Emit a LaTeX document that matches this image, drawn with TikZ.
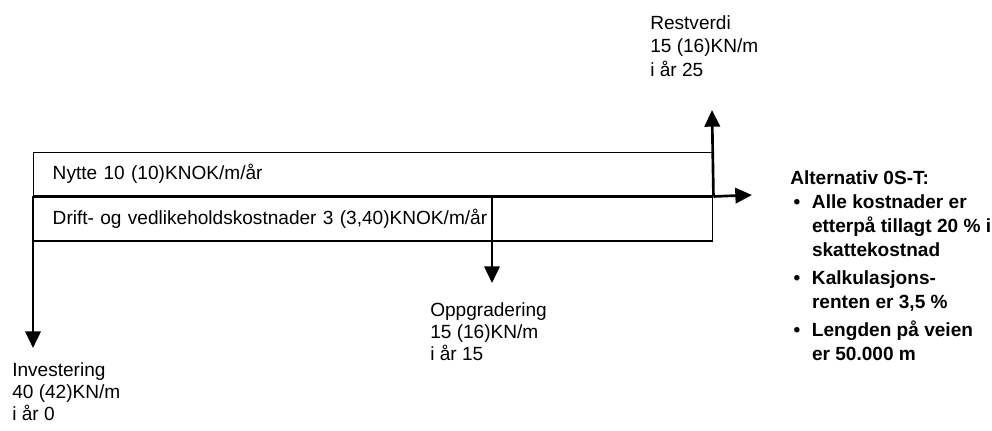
\documentclass[tikz,border=0pt]{standalone}
\usepackage{fontspec}
\setmainfont{Liberation Sans}
\usepackage{tikz}
\usetikzlibrary{arrows.meta,positioning}
\newcommand{\tekst}{\fontsize{14.3pt}{16.5pt}\selectfont}
\newcommand{\punkt}{\makebox[16.3pt][l]{\hspace{2.5pt}\textbullet}}
\newcommand{\innrykk}{\hspace*{16.3pt}}
\tikzset{
  boks/.style={draw=black,line width=1.1pt,anchor=north west,text width=480.75pt,
              align=left,inner xsep=14.25pt,inner ysep=0pt,font=\tekst},
  pil/.style={-{Triangle[length=12.5pt,width=11.5pt]},line width=2pt},
  etikett/.style={align=left,inner sep=0pt,anchor=base west,font=\tekst},
}

\begin{document}
\begin{tikzpicture}[x=0.75pt,y=-0.75pt]
  \useasboundingbox (0,0) rectangle (992,430);

  % ================= kontantstroem: boksene =================
  \node[boks,minimum height=32.25pt] (nytte) at (33,152) {Nytte 10 (10)KNOK/m/år};
  \node[boks,minimum height=33pt] (drift) at (nytte.south west)
    {Drift- og vedlikeholdskostnader 3 (3,40)KNOK/m/år};

  % ================= piler =================
  \coordinate (invtupp)  at (33,348);
  \coordinate (opptopp)  at (492,195);
  \coordinate (opptupp)  at (492,283);
  \coordinate (resttupp) at (712,110);
  \coordinate (tidtupp)  at (752,195);
  \draw[pil] (drift.north west) -- (invtupp);
  \draw[pil] (opptopp) -- (opptupp);
  \draw[pil] (nytte.south east) -- (resttupp);
  \draw[pil] (nytte.south east) -- (tidtupp);

  % ================= etiketter (ankret i siste linje) =================
  \node[etikett,font=\fontsize{14.3pt}{17.5pt}\selectfont] (rest) at (650,76)
    {Restverdi\\ 15 (16)KN/m\\ i år 25};
  \node[etikett] (opp) at (430,360) {Oppgradering\\ 15 (16)KN/m\\ i år 15};
  \node[etikett] (inv) at (12,420) {Investering\\ 40 (42)KN/m\\ i år 0};

  % forutsetninger
  \node[etikett,font=\fontsize{14.3pt}{18pt}\selectfont\bfseries] (alt) at (790,360)
    {Alternativ 0S-T:\\
     \punkt Alle kostnader er\\
     \innrykk etterpå tillagt 20~\% i\\
     \innrykk skattekostnad\\[3pt]
     \punkt Kalkulasjons-\\
     \innrykk renten er 3,5~\%\\[3pt]
     \punkt Lengden på veien\\
     \innrykk er 50.000 m};
\end{tikzpicture}
\end{document}
